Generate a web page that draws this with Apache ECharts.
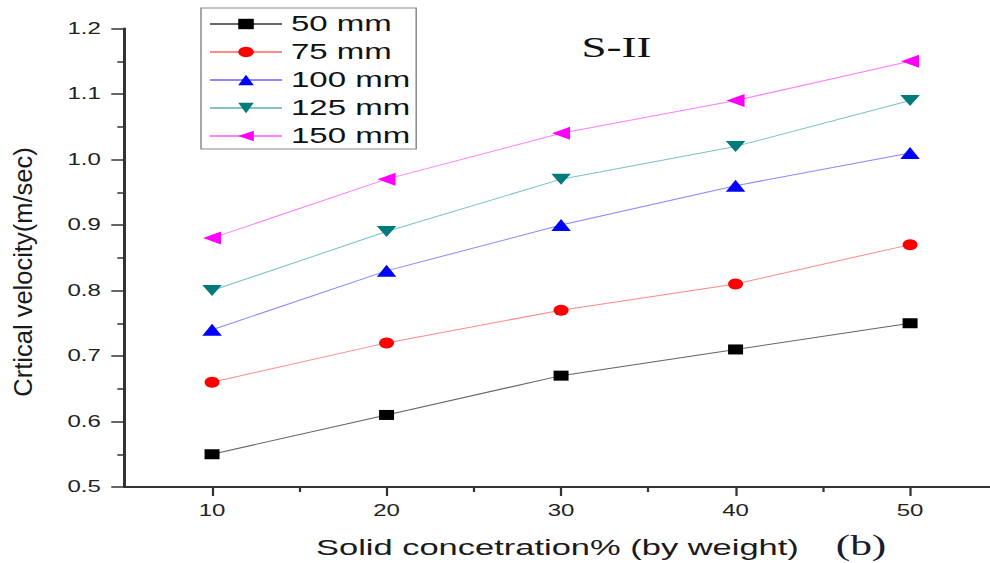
<!DOCTYPE html>
<html>
<head>
<meta charset="utf-8">
<script src="https://cdn.jsdelivr.net/npm/echarts@6/dist/echarts.min.js"></script>
<style>
  html, body { margin: 0; padding: 0; background: #fff; overflow: hidden; width: 990px; height: 563px; }
  /* the figure is laid out at 660px and widened 1.5x, as in the published plate */
  #chart { width: 660px; height: 563px; transform: scaleX(1.5); transform-origin: 0 0; }
</style>
</head>
<body>
<div id="chart"></div>
<script>
// Solid concentration (% by weight)
const concentration = [10, 20, 30, 40, 50];

// Critical velocity (m/sec) for each pipe diameter, slurry S-II
const v50mm  = [0.55, 0.61, 0.67, 0.71, 0.75];
const v75mm  = [0.66, 0.72, 0.77, 0.81, 0.87];
const v100mm = [0.74, 0.83, 0.90, 0.96, 1.01];
const v125mm = [0.80, 0.89, 0.97, 1.02, 1.09];
const v150mm = [0.88, 0.97, 1.04, 1.09, 1.15];

const seriesNames = ['50 mm', '75 mm', '100 mm', '125 mm', '150 mm'];

// Axis ticks; the x axis runs off the right edge of the plate
const xRange = [5, 54.58];
const xMajorTicks = [10, 20, 30, 40, 50];
const xMinorTicks = [15, 25, 35, 45];
const yTickLabels = ['0.5', '0.6', '0.7', '0.8', '0.9', '1.0', '1.1', '1.2'];

const SANS = '"Liberation Sans", Arial, sans-serif';
const SERIF = '"Liberation Serif", "Times New Roman", serif';

function pairs(vals) {
  return concentration.map((c, i) => [c, vals[i]]);
}

function lineSeries(name, vals, symbol, size, rotate, markColor, lineColor) {
  return {
    name: name,
    type: 'line',
    data: pairs(vals),
    symbol: symbol,
    symbolSize: size,
    symbolRotate: rotate,
    showSymbol: true,
    itemStyle: { color: markColor },
    lineStyle: { color: lineColor, width: 1 },
    emphasis: { disabled: true },
    animation: false,
    z: 3
  };
}

const chart = echarts.init(document.getElementById('chart'), null, { renderer: 'svg' });

chart.setOption({
  backgroundColor: '#fff',
  animation: false,
  grid: { left: 83.2, right: 0, top: 28.5, bottom: 72.5, containLabel: false },
  legend: {
    orient: 'vertical',
    left: 134,
    top: 8,
    data: seriesNames,
    itemWidth: 48,
    itemHeight: 13,
    itemGap: 6,
    padding: [5, 4, 2, 5],
    borderColor: '#8a8a8a',
    borderWidth: 1,
    backgroundColor: '#fff',
    selectedMode: false,
    textStyle: { fontSize: 22, fontFamily: SANS, color: '#111', lineHeight: 21.5, padding: [0, 0, 0, 1] }
  },
  xAxis: [
    {
      type: 'value',
      min: xRange[0],
      max: xRange[1],
      interval: 5,
      position: 'bottom',
      axisLine: { lineStyle: { color: '#333', width: 2 } },
      axisTick: { show: true, length: 9, customValues: xMajorTicks, lineStyle: { color: '#333', width: 1.5 } },
      axisLabel: {
        customValues: xMajorTicks,
        formatter: v => (v % 10 === 0 ? String(v) : ''),
        margin: 16, fontSize: 16, fontFamily: SANS, color: '#222'
      },
      splitLine: { show: false },
      name: 'Solid concetration% (by weight)',
      nameLocation: 'middle',
      nameGap: 48,
      nameTextStyle: { fontSize: 23, fontFamily: SANS, color: '#1a1a1a' }
    },
    {
      type: 'value',
      min: xRange[0],
      max: xRange[1],
      interval: 5,
      position: 'bottom',
      gridIndex: 0,
      axisLine: { show: false },
      axisTick: { show: true, length: 5, customValues: xMinorTicks, lineStyle: { color: '#333', width: 1.5 } },
      axisLabel: { show: false },
      splitLine: { show: false }
    }
  ],
  yAxis: {
    type: 'value',
    min: 0.5,
    max: 1.2,
    interval: 0.1,
    axisLine: { show: true, lineStyle: { color: '#333', width: 2 } },
    axisTick: { show: true, length: 9, lineStyle: { color: '#333', width: 1.5 } },
    minorTick: { show: true, splitNumber: 2, length: 5, lineStyle: { color: '#333', width: 1.5 } },
    axisLabel: {
      formatter: v => yTickLabels[Math.round((v - 0.5) * 10)] || v.toFixed(1),
      margin: 16, fontSize: 16, fontFamily: SANS, color: '#222'
    },
    splitLine: { show: false },
    minorSplitLine: { show: false }
  },
  graphic: [
    {
      type: 'text',
      x: 15, y: 272,
      rotation: Math.PI / 2,
      scaleX: 1.5,
      style: { text: 'Crtical velocity(m/sec)', fontSize: 17, fontFamily: SANS, fill: '#1a1a1a', align: 'center', verticalAlign: 'middle' }
    },
    {
      type: 'text',
      x: 411, y: 47,
      style: { text: 'S-II', fontSize: 30, fontFamily: SERIF, fill: '#111', align: 'center', verticalAlign: 'middle' }
    },
    {
      type: 'text',
      x: 574, y: 545,
      style: { text: '(b)', fontSize: 29, fontFamily: SERIF, fill: '#1a1a30', align: 'center', verticalAlign: 'middle' }
    }
  ],
  series: [
    lineSeries(seriesNames[0], v50mm, 'rect', [10, 10], 0, '#000000', '#666666'),
    lineSeries(seriesNames[1], v75mm, 'circle', [10, 11], 0, '#ff0000', '#ff8a8a'),
    lineSeries(seriesNames[2], v100mm, 'triangle', [13, 12], 0, '#0000ff', '#8a8aff'),
    lineSeries(seriesNames[3], v125mm, 'triangle', [13, 11], 180, '#007b7b', '#80c4c4'),
    lineSeries(seriesNames[4], v150mm, 'triangle', [13, 12], 90, '#ff00ff', '#ff80ff')
  ]
});
</script>
</body>
</html>
